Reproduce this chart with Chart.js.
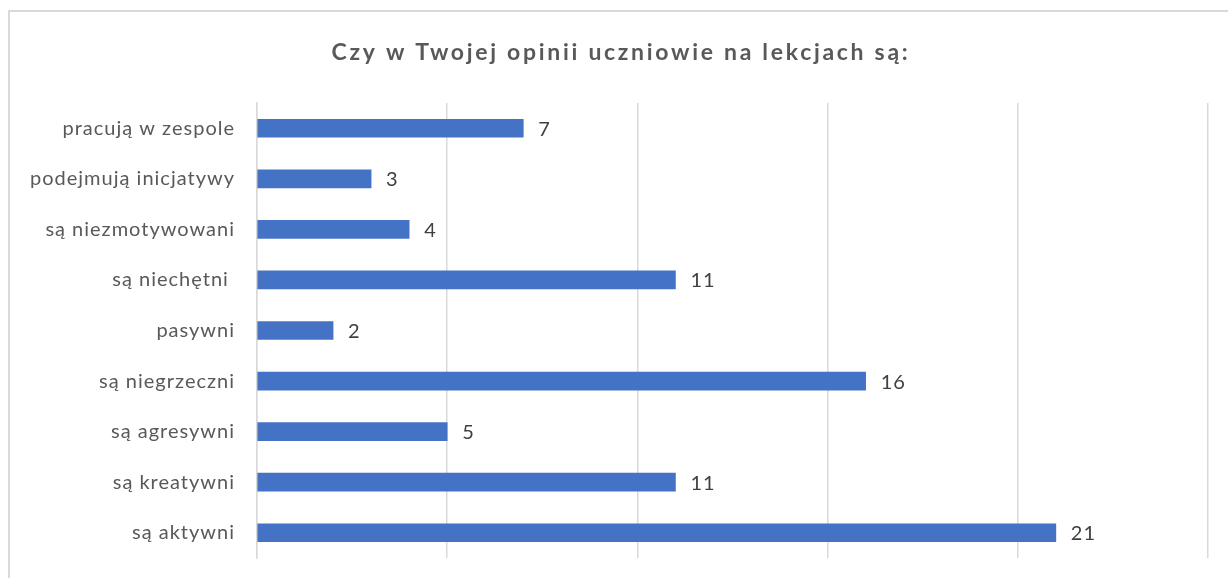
<!DOCTYPE html>
<html>
<head>
<meta charset="utf-8">
<script src="https://cdn.jsdelivr.net/npm/chart.js@4/dist/chart.umd.min.js"></script>
<style>
  html, body { margin: 0; padding: 0; background: #fff; }
  #wrap { position: relative; width: 1228px; height: 578px; overflow: hidden; }
  #frame { position: absolute; left: 8px; top: 10px; width: 1300px; height: 700px;
           border-left: 2px solid #d9d9d9; border-top: 2px solid #d9d9d9; }
  canvas { position: absolute; left: 0; top: 0; }
</style>
</head>
<body>
<div id="wrap">
  <div id="frame"></div>
  <canvas id="chart" width="1228" height="578"></canvas>
</div>
<script>
// Categories top to bottom, as in the picture
const categories = ['pracują w zespole', 'podejmują inicjatywy', 'są niezmotywowani', 'są niechętni ',
    'pasywni', 'są niegrzeczni', 'są agresywni', 'są kreatywni', 'są aktywni'];
const answers = [7, 3, 4, 11, 2, 16, 5, 11, 21];
const axisTicks = [0, 5, 10, 15, 20, 25];
const titleText = 'Czy w Twojej opinii uczniowie na lekcjach są:';

const fontFamily = 'Lato, "Open Sans", sans-serif';

// wider letter spacing like the original rendering
const spacing = {
    id: 'spacing',
    beforeDraw(chart) { chart.ctx.letterSpacing = '1px'; }
};

// title and value labels
const extraText = {
    id: 'extraText',
    afterDatasetsDraw(chart) {
        const ctx = chart.ctx;
        const meta = chart.getDatasetMeta(0);
        ctx.save();
        ctx.letterSpacing = '1px';
        ctx.font = '20px ' + fontFamily;
        ctx.fillStyle = '#404040';
        ctx.textAlign = 'left';
        ctx.textBaseline = 'middle';
        meta.data.forEach((bar, i) => {
            ctx.fillText(String(answers[i]), bar.x + 15, bar.y + 1);
        });

        ctx.letterSpacing = '2.7px';
        ctx.font = 'bold 23px ' + fontFamily;
        ctx.fillStyle = '#595959';
        ctx.textAlign = 'center';
        ctx.fillText(titleText, 621, 53);
        ctx.restore();
    }
};

const ctx = document.getElementById('chart').getContext('2d');
const chart = new Chart(ctx, {
    type: 'bar',
    data: {
        labels: categories,
        datasets: [{
            data: answers,
            backgroundColor: '#4472c4',
            barThickness: 18,
        }]
    },
    options: {
        indexAxis: 'y',
        responsive: false,
        animation: false,
        layout: { padding: { left: 0, right: 20, top: 103, bottom: 20 } },
        scales: {
            x: {
                min: axisTicks[0],
                max: axisTicks[axisTicks.length - 1],
                afterBuildTicks: (scale) => { scale.ticks = axisTicks.map(v => ({ value: v })); },
                afterFit: (scale) => { scale.height = 0; scale.paddingLeft = 0; scale.paddingRight = 0; },
                ticks: { display: false },
                grid: { color: '#d9d9d9', lineWidth: 1.5, drawTicks: false },
                border: { display: false }
            },
            y: {
                afterFit: (scale) => { scale.width = 257; scale.paddingTop = 0; scale.paddingBottom = 0; },
                ticks: { color: '#595959', font: { family: fontFamily, size: 20 }, padding: 22 },
                grid: { display: false, drawTicks: false },
                border: { color: '#d9d9d9', width: 1.5 }
            }
        },
        plugins: {
            legend: { display: false },
            tooltip: { enabled: false },
            title: { display: false }
        }
    },
    plugins: [spacing, extraText]
});
</script>
</body>
</html>
